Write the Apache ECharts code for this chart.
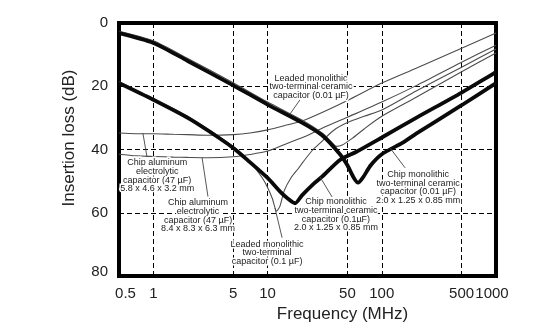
<!DOCTYPE html>
<html>
<head>
<meta charset="utf-8">
<script src="https://cdn.jsdelivr.net/npm/echarts@6/dist/echarts.min.js"></script>
<style>
  html, body { margin: 0; padding: 0; background: #fff; }
  #chart { width: 541px; height: 329px; }
</style>
</head>
<body>
<div id="chart"></div>
<script>
// ---- Data (frequency in MHz, insertion loss in dB) ----
const freqTickLabels = [0.5, 1, 5, 10, 50, 100, 500, 1000];
const freqGridLines = [1, 5, 10, 50, 100, 500];
const lossTickLabels = [0, 20, 40, 60, 80];

// Chip monolithic two-terminal ceramic capacitor (0.01 uF) 2.0 x 1.25 x 0.85 mm
const chip001Freq = [0.5, 1, 2, 5, 10, 20, 30, 43, 50, 57, 62, 68, 80, 100, 150, 200, 300, 500, 1000];
const chip001Loss = [3.2, 6.3, 12, 19.7, 25.8, 31.5, 35.5, 41.5, 45, 49, 50.5, 49, 45, 41.5, 38, 35, 31, 26, 19];

// Chip monolithic two-terminal ceramic capacitor (0.1 uF) 2.0 x 1.25 x 0.85 mm
const chip01Freq = [0.5, 1, 2, 3, 5, 7, 10, 13, 15, 17.4, 20, 25, 30, 43, 60, 100, 200, 500, 1000];
const chip01Loss = [19, 24.3, 30, 34, 39.5, 44, 49, 53.5, 55.5, 57, 54.5, 51, 48.6, 43.3, 40.7, 36.2, 30, 22, 15.5];

// Leaded monolithic two-terminal ceramic capacitor (0.01 uF)
const leaded001Freq = [0.5, 1, 2, 5, 10, 20, 30, 36, 40, 45, 55, 70, 100, 200, 500, 1000];
const leaded001Loss = [2.6, 5.6, 11.2, 18.9, 25, 30.7, 34.8, 37.5, 39, 38.6, 36.5, 33.5, 29.5, 23.5, 15.4, 9.5];

// Leaded monolithic two-terminal capacitor (0.1 uF)
const leaded01Freq = [0.5, 1, 2, 5, 7, 9, 10, 11, 12, 12.8, 14, 16, 18.6, 20.4, 25, 28.8, 37.7, 50, 70, 100, 200, 500, 1000];
const leaded01Loss = [18.5, 23.8, 29.5, 39, 43.8, 49, 52, 55.5, 59.5, 58, 53, 49, 46, 44, 40, 38, 34, 31.5, 29.5, 27.5, 21.5, 14, 8.2];

// Chip aluminum electrolytic capacitor (47 uF) 5.8 x 4.6 x 3.2 mm
const alu58Freq = [0.5, 0.7, 1, 1.5, 2, 3, 5, 7, 10, 15, 20, 30, 50, 100, 200, 500, 1000];
const alu58Loss = [34.8, 35, 35, 35.2, 35.3, 35.5, 35.3, 34.8, 33.8, 32.2, 31, 28.3, 24.5, 19, 14.3, 8, 3.2];

// Chip aluminum electrolytic capacitor (47 uF) 8.4 x 8.3 x 6.3 mm
const alu84Freq = [0.5, 0.7, 1, 1.5, 2, 3, 5, 7, 10, 15, 20, 30, 50, 100, 200, 500, 1000];
const alu84Loss = [41.5, 42, 42.2, 42.4, 42.5, 42.6, 42.3, 41.6, 40.5, 38, 36.3, 33.3, 29.8, 25, 19.8, 12.4, 7];

const zip = (xs, ys) => xs.map((x, i) => [x, ys[i]]);

// ---- Layout / style config ----
const FONT = 'Liberation Sans, Arial, sans-serif';
const annoLabel = {
  show: true, position: 'inside', color: '#222', fontFamily: FONT,
  fontSize: 9, lineHeight: 8.7, align: 'center', verticalAlign: 'middle',
  textBorderColor: '#fff', textBorderWidth: 3
};
function note(coord, text) {
  return { coord: coord, value: text, label: Object.assign({}, annoLabel, { formatter: text }) };
}
function leader(a, b) {
  return [{ coord: a }, { coord: b }];
}
const leaderStyle = { color: '#444', width: 0.9, type: 'solid' };

function lineSeries(name, data, thick, extra) {
  return Object.assign({
    name: name, type: 'line', data: data, showSymbol: false, symbol: 'none',
    smooth: 0.25, silent: true, z: thick ? 4 : 3,
    lineStyle: thick ? { color: '#0a0a0a', width: 3.8 } : { color: '#4c4c4c', width: 1.1 }
  }, extra || {});
}

const chart = echarts.init(document.getElementById('chart'), null, { renderer: 'canvas' });

const option = {
  animation: false,
  backgroundColor: '#fff',
  textStyle: { fontFamily: FONT },
  grid: {
    left: 119, right: 45, top: 23, bottom: 53,
    show: true, borderColor: '#000', borderWidth: 4, backgroundColor: 'transparent',
    containLabel: false, outerBoundsMode: 'none'
  },
  xAxis: {
    type: 'log', logBase: 10, min: 0.5, max: 1000,
    name: 'Frequency (MHz)', nameLocation: 'middle', nameGap: 30,
    nameTextStyle: { fontSize: 17, color: '#222', fontFamily: FONT, padding: [0, 0, 0, 70] },
    axisLine: { show: false },
    axisTick: { show: false, customValues: freqGridLines },
    axisLabel: {
      customValues: freqTickLabels, margin: 10, fontSize: 15, color: '#222', fontFamily: FONT,
      formatter: function (v) {
        if (Math.abs(v - 0.5) < 1e-6) return '{l|0.5}';
        if (Math.abs(v - 1000) < 1e-6) return '{r|1000}';
        return String(Math.round(v));
      },
      rich: {
        l: { fontSize: 15, color: '#222', fontFamily: FONT, padding: [0, 0, 0, 13] },
        r: { fontSize: 15, color: '#222', fontFamily: FONT, padding: [0, 8, 0, 0] }
      }
    },
    splitLine: { show: true, lineStyle: { color: '#000', width: 1, type: [5, 3] } }
  },
  yAxis: {
    type: 'value', inverse: true, min: 0, max: 80, interval: 20,
    name: 'Insertion loss (dB)', nameLocation: 'middle', nameGap: 41, nameRotate: 90,
    nameTextStyle: { fontSize: 17, color: '#222', fontFamily: FONT, padding: [0, 0, 0, 23] },
    axisLine: { show: false }, axisTick: { show: false },
    axisLabel: {
      customValues: lossTickLabels, margin: 11, fontSize: 15, color: '#222', fontFamily: FONT,
      formatter: function (v) { return v === 80 ? '{b|80}' : String(v); },
      rich: { b: { fontSize: 15, color: '#222', fontFamily: FONT, padding: [0, 0, 8, 0] } }
    },
    splitLine: { show: true, lineStyle: { color: '#000', width: 1, type: [5, 3] } }
  },
  series: [
    lineSeries('Chip aluminum electrolytic capacitor (47 µF) 5.8 x 4.6 x 3.2 mm', zip(alu58Freq, alu58Loss), false, {
      markPoint: { symbol: 'circle', symbolSize: 0, silent: true, z: 10,
        data: [note([1.08, 48.3], 'Chip aluminum\nelectrolytic\ncapacitor (47 µF)\n5.8 x 4.6 x 3.2 mm')] },
      markLine: { symbol: ['none', 'none'], silent: true, label: { show: false }, lineStyle: leaderStyle,
        data: [leader([0.81, 34.9], [0.88, 42.4])] }
    }),
    lineSeries('Chip aluminum electrolytic capacitor (47 µF) 8.4 x 8.3 x 6.3 mm', zip(alu84Freq, alu84Loss), false, {
      markPoint: { symbol: 'circle', symbolSize: 0, silent: true, z: 10,
        data: [note([2.46, 61], 'Chip aluminum\nelectrolytic\ncapacitor (47 µF)\n8.4 x 8.3 x 6.3 mm')] },
      markLine: { symbol: ['none', 'none'], silent: true, label: { show: false }, lineStyle: leaderStyle,
        data: [leader([2.67, 42.6], [3.01, 55])] }
    }),
    lineSeries('Leaded monolithic two-terminal ceramic capacitor (0.01 µF)', zip(leaded001Freq, leaded001Loss), false, {
      markPoint: { symbol: 'circle', symbolSize: 0, silent: true, z: 10,
        data: [note([24, 20.2], 'Leaded monolithic\ntwo-terminal ceramic\ncapacitor (0.01 µF)')] },
      markLine: { symbol: ['none', 'none'], silent: true, label: { show: false }, lineStyle: leaderStyle,
        data: [leader([19.2, 24.3], [15.7, 28.8])] }
    }),
    lineSeries('Leaded monolithic two-terminal capacitor (0.1 µF)', zip(leaded01Freq, leaded01Loss), false, {
      markPoint: { symbol: 'circle', symbolSize: 0, silent: true, z: 10,
        data: [note([9.9, 72.7], 'Leaded monolithic\ntwo-terminal\ncapacitor (0.1 µF)')] },
      markLine: { symbol: ['none', 'none'], silent: true, label: { show: false }, lineStyle: leaderStyle,
        data: [leader([11.6, 58.5], [13.4, 67.9])] }
    }),
    lineSeries('Chip monolithic two-terminal ceramic capacitor (0.1 µF) 2.0 x 1.25 x 0.85 mm', zip(chip01Freq, chip01Loss), true, {
      markPoint: { symbol: 'circle', symbolSize: 0, silent: true, z: 10,
        data: [note([39.7, 60.7], 'Chip monolithic\ntwo-terminal ceramic\ncapacitor (0.1µF)\n2.0 x 1.25 x 0.85 mm')] },
      markLine: { symbol: ['none', 'none'], silent: true, label: { show: false }, lineStyle: leaderStyle,
        data: [leader([28.8, 48.7], [36.7, 55])] }
    }),
    lineSeries('Chip monolithic two-terminal ceramic capacitor (0.01 µF) 2.0 x 1.25 x 0.85 mm', zip(chip001Freq, chip001Loss), true, {
      markPoint: { symbol: 'circle', symbolSize: 0, silent: true, z: 10,
        data: [note([208, 52], 'Chip monolithic\ntwo-terminal ceramic\ncapacitor (0.01 µF)\n2.0 x 1.25 x 0.85 mm')] },
      markLine: { symbol: ['none', 'none'], silent: true, label: { show: false }, lineStyle: leaderStyle,
        data: [leader([118, 39.5], [160, 45.8])] }
    })
  ]
};
chart.setOption(option);
</script>
</body>
</html>
